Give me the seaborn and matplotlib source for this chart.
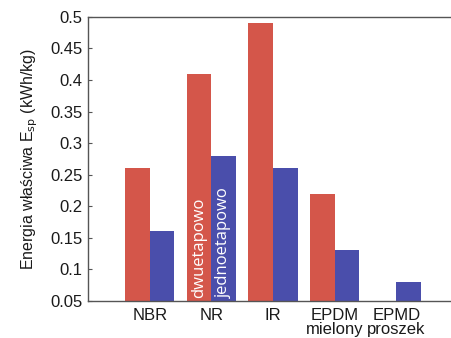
import pandas as pd
import numpy as np
import matplotlib
matplotlib.use("Agg")
import matplotlib.pyplot as plt
import seaborn as sns

materials = ["NBR", "NR", "IR", "EPDM\nmielony", "EPMD\nproszek"]
dwuetapowo = [0.26, 0.41, 0.49, 0.22, 0.05]
jednoetapowo = [0.16, 0.28, 0.26, 0.13, 0.08]
methods = ["dwuetapowo", "jednoetapowo"]
yticks = [0.05, 0.1, 0.15, 0.2, 0.25, 0.3, 0.35, 0.4, 0.45, 0.5]

df = pd.DataFrame({
    "material": materials * 2,
    "value": dwuetapowo + jednoetapowo,
    "method": [methods[0]] * len(materials) + [methods[1]] * len(materials),
})

sns.set_style("white")
plt.rcParams["font.family"] = ["Liberation Sans", "DejaVu Sans"]

red = "#d4564a"
blue = "#4a4eab"

fig = plt.figure(figsize=(4.52, 3.38), dpi=100)
ax = fig.add_axes([0.195, 0.11, 0.805, 0.84])

sns.barplot(data=df, x="material", y="value", hue="method",
            palette=[red, blue], saturation=1, width=0.8, linewidth=0,
            ax=ax, legend=False)

ax.set_ylim(0.05, 0.5)
ax.set_xlim(-1, 4.9)
ax.set_yticks(yticks)
ax.set_yticklabels(["%g" % t for t in yticks], fontsize=12, color="#1a1a1a")
ax.tick_params(axis="y", direction="in", length=3, color="#555555", left=True, pad=4)
ax.tick_params(axis="x", length=0, labelsize=12, pad=5, labelcolor="#1a1a1a")
for lbl in ax.get_xticklabels():
    lbl.set_linespacing(0.95)
ax.set_xlabel("")
ax.set_ylabel("Energia właściwa E$_{\\rm sp}$ (kWh/kg)", fontsize=11.5,
              labelpad=7, color="#1a1a1a")

for s in ["left", "top", "bottom"]:
    ax.spines[s].set_color("#555555")
    ax.spines[s].set_linewidth(1)
ax.spines["right"].set_visible(False)

# labels inside NR bars
ax.text(1 - 0.2, 0.054, "dwuetapowo", rotation=90, color="white", ha="center",
        va="bottom", fontsize=12, family=["Open Sans", "DejaVu Sans"])
ax.text(1 + 0.2, 0.054, "jednoetapowo", rotation=90, color="white", ha="center",
        va="bottom", fontsize=12, family=["Open Sans", "DejaVu Sans"])

plt.savefig("out.png", dpi=100)
